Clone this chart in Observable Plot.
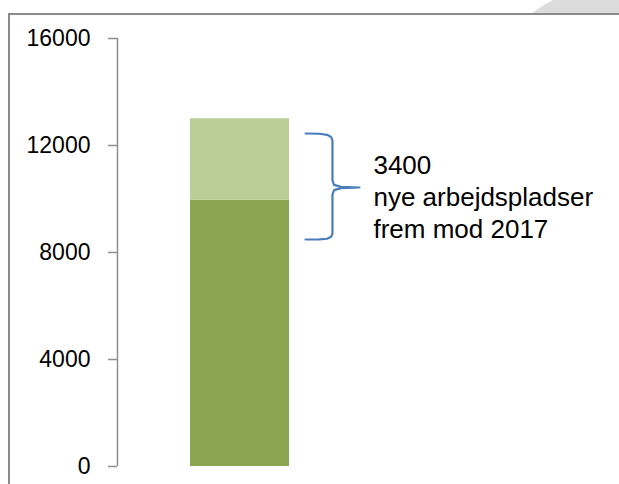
<!DOCTYPE html>
<html>
<head>
<meta charset="utf-8">
<script src="https://cdn.jsdelivr.net/npm/d3@7"></script>
<script src="https://cdn.jsdelivr.net/npm/@observablehq/plot@0.6"></script>
<style>
  html, body { margin: 0; padding: 0; background: #ffffff; }
  #wrap { position: relative; width: 619px; height: 484px; overflow: hidden; background: #ffffff; }
  #shade { position: absolute; left: 472px; top: -16px; width: 296px; height: 296px; border-radius: 50%; background: #dcdcdc; }
  #frame { position: absolute; left: 8px; top: 13px; width: 700px; height: 600px; background: #ffffff;
           border-top: 2px solid #8a8a8a; border-left: 2px solid #8a8a8a; box-sizing: border-box; }
  #chart { position: absolute; left: 0; top: 0; }
</style>
</head>
<body>
<div id="wrap">
  <div id="shade"></div>
  <div id="frame"></div>
  <div id="chart"></div>
</div>
<script>
// ---- data ----
const segments = ["Arbejdspladser i dag", "Nye arbejdspladser frem mod 2017"];
const values = [9950, 3050];
const segmentColors = ["#8aa54f", "#bbce97"];
const yTicks = [0, 4000, 8000, 12000, 16000];
const annotationLines = ["3400", "nye arbejdspladser", "frem mod 2017"];
// brace annotation (x in bar-width units, y in data units)
const braceX = [1.162, 1.30, 1.38, 1.42, 1.434, 1.434, 1.45, 1.52, 1.707, 1.52, 1.45, 1.434, 1.434, 1.42, 1.38, 1.30, 1.162];
const braceY = [12449, 12440, 12400, 12320, 12190, 10700, 10530, 10455, 10430, 10405, 10330, 10160, 8700, 8590, 8515, 8490, 8486];
const annotationX = 1.848;
const annotationY = 10130;

// ---- derived tables ----
const ends = d3.cumsum(values);
const bars = segments.map((s, i) => ({
  segment: s, y1: ends[i] - values[i], y2: ends[i], color: segmentColors[i]
}));
const brace = braceX.map((x, i) => ({x, y: braceY[i]}));

const chart = Plot.plot({
  width: 619,
  height: 484,
  marginTop: 38,
  marginBottom: 18,
  marginLeft: 117,
  marginRight: 0,
  style: {background: "transparent", fontFamily: "'Liberation Sans', Arial, sans-serif", color: "#000", overflow: "visible"},
  x: {domain: [-0.737, 4.333], axis: null},
  y: {domain: [0, 16000], axis: null},
  marks: [
    Plot.rectY(bars, {x1: 0, x2: 1, y1: "y1", y2: "y2", fill: "color"}),
    Plot.ruleX([-0.737], {y1: 0, y2: 16000, stroke: "#8f8f8f", strokeWidth: 1.5}),
    Plot.axisY({ticks: yTicks, tickFormat: d3.format("d"), tickSize: 9, tickPadding: 18,
                fontSize: 23, stroke: "#8f8f8f", strokeWidth: 1.5, fill: "#000", label: null}),
    Plot.line(brace, {x: "x", y: "y", stroke: "#4a7ebb", strokeWidth: 2.2, strokeLinejoin: "round", strokeLinecap: "round"}),
    Plot.text([annotationLines.join("\n")], {x: annotationX, y: annotationY, text: d => d,
               textAnchor: "start", lineAnchor: "middle", lineHeight: 1.24, fontSize: 26, fill: "#000"})
  ]
});
document.getElementById("chart").appendChild(chart);
</script>
</body>
</html>
